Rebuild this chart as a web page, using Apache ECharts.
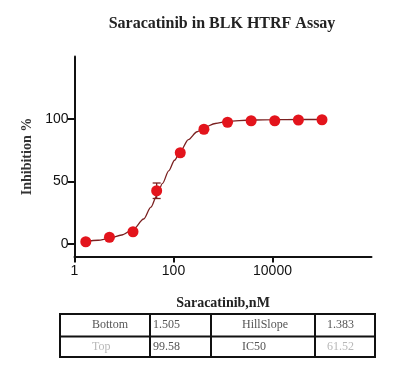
<!DOCTYPE html>
<html><head><meta charset="utf-8">
<script src="https://cdn.jsdelivr.net/npm/echarts@6/dist/echarts.min.js"></script>
<style>html,body{margin:0;padding:0;background:#fff}#c{width:420px;height:370px}</style>
</head><body><div id="c"></div>
<script>
// ---- data ----
var title = 'Saracatinib in BLK HTRF Assay';
var xName = 'Saracatinib,nM';
var yName = 'Inhibition %';
var conc = [1.69, 5.08, 15.2, 45.7, 137, 412, 1235, 3704, 11111, 33333, 100000];
var inhib = [1.8, 5.4, 9.8, 42.6, 73.0, 91.8, 97.4, 98.6, 98.6, 99.2, 99.4];
var errSD = [0, 0, 0, 6.2, 2.5, 0, 0, 0, 0, 0, 0];
// fitted curve
var curveX = [1.69, 3, 5.08, 9, 15.2, 25, 35, 45.7, 60, 80, 105, 137, 200, 300, 412, 700, 1235, 3704, 11111, 33333, 100000];
var curveY = [1.9, 3.0, 4.5, 7.2, 11.5, 20.0, 29.5, 38.5, 48.5, 58.5, 67.0, 74.0, 83.5, 89.8, 93.2, 96.4, 98.2, 99.2, 99.5, 99.6, 99.6];
var xTicks = [1, 100, 10000];
var yTicks = [0, 50, 100];
var tableRow1 = ['Bottom', '1.505', 'HillSlope', '1.383'];
var tableRow2 = ['Top', '99.58', 'IC50', '61.52'];

var pts = conc.map(function (c, i) { return [c, inhib[i]]; });
var curve = curveX.map(function (c, i) { return [c, curveY[i]]; });
var errs = [];
conc.forEach(function (c, i) { if (errSD[i] > 0) errs.push([c, inhib[i] - errSD[i], inhib[i] + errSD[i]]); });

var chart = echarts.init(document.getElementById('c'), null, {renderer: 'canvas'});

var colX = [60, 150, 211, 315, 375];
var rowY = [314, 336.5, 357];
var graphics = [];
graphics.push({type: 'rect', shape: {x: colX[0], y: rowY[0], width: colX[4] - colX[0], height: rowY[2] - rowY[0]}, style: {fill: 'none', stroke: '#111', lineWidth: 2}});
graphics.push({type: 'line', shape: {x1: colX[0], y1: rowY[1], x2: colX[4], y2: rowY[1]}, style: {stroke: '#111', lineWidth: 2}});
for (var k = 1; k < 4; k++) graphics.push({type: 'line', shape: {x1: colX[k], y1: rowY[0], x2: colX[k], y2: rowY[2]}, style: {stroke: '#111', lineWidth: 2}});
var textX = [92, 153, 242, 327];
[tableRow1, tableRow2].forEach(function (row, r) {
  row.forEach(function (t, c) {
    var faint = (r === 1 && (c === 0 || c === 3));
    graphics.push({type: 'text', x: textX[c], y: (rowY[r] + rowY[r + 1]) / 2,
      style: {text: t, fill: faint ? '#b8b8b8' : '#555', font: '12px "Liberation Serif", serif', verticalAlign: 'middle'}});
  });
});
graphics.push({type: 'text', x: 222, y: 24,
  style: {text: title, fill: '#222', font: 'bold 16px "Liberation Serif", serif', align: 'center', verticalAlign: 'middle'}});

chart.setOption({
  animation: false,
  backgroundColor: '#fff',
  grid: {left: 74.5, top: 56.5, width: 297, height: 200, containLabel: false},
  xAxis: {type: 'log', logBase: 10, min: 1, max: 1000000,
    name: xName, nameLocation: 'middle', nameGap: 40,
    nameTextStyle: {fontFamily: '"Liberation Serif", serif', fontSize: 14, fontWeight: 'bold', color: '#222'},
    axisLine: {show: true, onZero: false, lineStyle: {color: '#111', width: 2}},
    axisTick: {show: true, length: 6, lineStyle: {color: '#111', width: 2}, customValues: xTicks},
    axisLabel: {fontFamily: '"Liberation Sans", Arial, sans-serif', fontSize: 14, color: '#111', margin: 8, customValues: xTicks,
      formatter: function (v) { return String(Math.round(v)); }},
    splitLine: {show: false}, minorTick: {show: false}},
  yAxis: {type: 'value', min: -10, max: 150,
    name: yName, nameLocation: 'middle', nameGap: 40, nameRotate: 90,
    nameTextStyle: {fontFamily: '"Liberation Serif", serif', fontSize: 14, fontWeight: 'bold', color: '#333'},
    axisLine: {show: true, onZero: false, lineStyle: {color: '#111', width: 2}},
    axisTick: {show: true, length: 7, lineStyle: {color: '#111', width: 2}, customValues: yTicks},
    axisLabel: {fontFamily: '"Liberation Sans", Arial, sans-serif', fontSize: 14, color: '#111', margin: 6, customValues: yTicks},
    splitLine: {show: false}},
  series: [
    {type: 'line', data: curve, smooth: 0.3, smoothMonotone: 'x', showSymbol: false, symbol: 'none',
      lineStyle: {color: '#7a2020', width: 1.3}, z: 2},
    {type: 'custom', data: errs, z: 3,
      renderItem: function (params, api) {
        var lo = api.coord([api.value(0), api.value(1)]);
        var hi = api.coord([api.value(0), api.value(2)]);
        var w = 4;
        return {type: 'group', children: [
          {type: 'line', shape: {x1: lo[0], y1: lo[1], x2: hi[0], y2: hi[1]}, style: {stroke: '#7a2020', lineWidth: 1.3}},
          {type: 'line', shape: {x1: lo[0] - w, y1: lo[1], x2: lo[0] + w, y2: lo[1]}, style: {stroke: '#7a2020', lineWidth: 1.3}},
          {type: 'line', shape: {x1: hi[0] - w, y1: hi[1], x2: hi[0] + w, y2: hi[1]}, style: {stroke: '#7a2020', lineWidth: 1.3}}
        ]};
      }},
    {type: 'scatter', data: pts, symbol: 'circle', symbolSize: 11,
      itemStyle: {color: '#e3141c', opacity: 1}, z: 4}
  ],
  graphic: graphics
});
</script></body></html>
